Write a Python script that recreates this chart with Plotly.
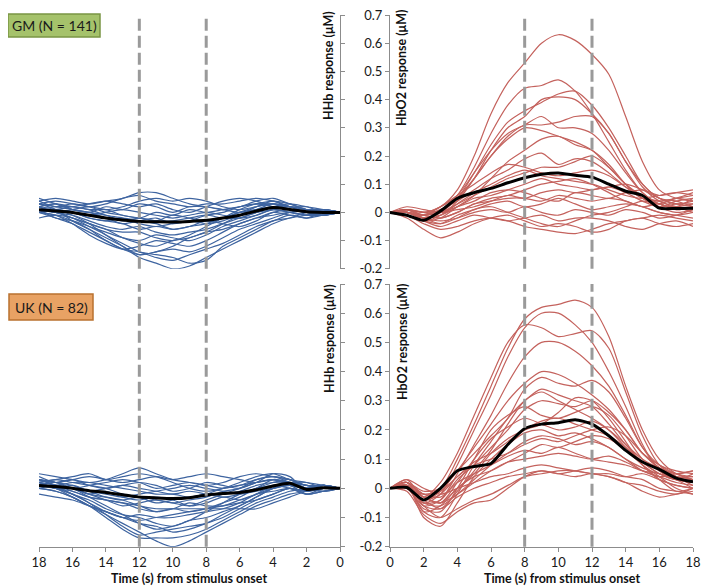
import plotly.graph_objects as go

TIME = list(range(19))
X_TICKS = [0, 2, 4, 6, 8, 10, 12, 14, 16, 18]
Y_TICKS = [0.7, 0.6, 0.5, 0.4, 0.3, 0.2, 0.1, 0, -0.1, -0.2]
Y_TICK_TEXT = ['0.7', '0.6', '0.5', '0.4', '0.3', '0.2', '0.1', '0', '-0.1', '-0.2']
WINDOW = [8, 12]

# GM group, HbO2 (right, top)
GM_HBO2 = [
    [0, 0.01, 0.0, 0.02, 0.08, 0.2, 0.35, 0.46, 0.53, 0.6, 0.63, 0.61, 0.56, 0.49, 0.34, 0.18, 0.08, 0.05, 0.04],
    [0, 0.0, -0.02, 0.0, 0.06, 0.16, 0.28, 0.38, 0.44, 0.45, 0.47, 0.43, 0.35, 0.25, 0.15, 0.07, 0.03, 0.02, 0.03],
    [0, 0.01, -0.01, 0.01, 0.05, 0.14, 0.24, 0.32, 0.36, 0.39, 0.42, 0.43, 0.38, 0.3, 0.2, 0.1, 0.05, 0.03, 0.04],
    [0, -0.01, -0.03, -0.01, 0.04, 0.12, 0.22, 0.3, 0.34, 0.4, 0.41, 0.4, 0.35, 0.28, 0.18, 0.09, 0.04, 0.02, 0.0],
    [0, 0.0, -0.02, 0.0, 0.05, 0.12, 0.2, 0.27, 0.31, 0.31, 0.32, 0.34, 0.34, 0.28, 0.18, 0.1, 0.05, 0.04, 0.02],
    [0, 0.01, 0.0, 0.02, 0.06, 0.14, 0.22, 0.28, 0.31, 0.34, 0.3, 0.3, 0.28, 0.22, 0.14, 0.07, 0.03, 0.02, 0.05],
    [0, 0.0, -0.02, 0.0, 0.05, 0.12, 0.2, 0.26, 0.3, 0.29, 0.27, 0.25, 0.22, 0.17, 0.1, 0.05, 0.02, 0.03, 0.03],
    [0, -0.01, -0.03, -0.02, 0.02, 0.06, 0.12, 0.18, 0.22, 0.26, 0.27, 0.24, 0.22, 0.16, 0.1, 0.05, 0.03, 0.01, 0.02],
    [0, 0.0, -0.01, 0.01, 0.04, 0.08, 0.12, 0.15, 0.19, 0.21, 0.17, 0.19, 0.18, 0.14, 0.09, 0.05, 0.04, 0.05, 0.06],
    [0, 0.01, 0.0, 0.0, 0.03, 0.06, 0.09, 0.12, 0.14, 0.16, 0.16, 0.18, 0.2, 0.16, 0.1, 0.06, 0.04, 0.05, 0.07],
    [0, 0.0, -0.02, -0.01, 0.03, 0.07, 0.1, 0.13, 0.15, 0.13, 0.12, 0.11, 0.1, 0.08, 0.06, 0.05, 0.06, 0.07, 0.06],
    [0, 0.0, -0.01, 0.0, 0.02, 0.05, 0.06, 0.08, 0.1, 0.12, 0.1, 0.09, 0.08, 0.09, 0.07, 0.04, 0.02, 0.04, 0.05],
    [0, 0.01, -0.01, -0.02, 0.0, 0.03, 0.04, 0.05, 0.05, 0.04, 0.06, 0.05, 0.04, 0.05, 0.04, 0.02, 0.03, 0.01, 0.02],
    [0, -0.01, -0.03, -0.04, -0.01, 0.01, 0.03, 0.04, 0.02, 0.03, 0.05, 0.03, 0.01, 0.02, 0.03, 0.02, 0.0, -0.01, 0.0],
    [0, 0.0, -0.02, -0.03, -0.02, 0.0, 0.01, 0.0, 0.02, 0.0, -0.01, 0.01, 0.0, -0.01, 0.01, 0.0, -0.02, -0.01, 0.01],
    [0, -0.01, -0.04, -0.06, -0.05, -0.03, -0.02, -0.03, -0.05, -0.06, -0.07, -0.075, -0.06, -0.04, -0.03, -0.02, -0.04, -0.05, -0.04],
    [0, -0.02, -0.06, -0.09, -0.07, -0.04, -0.02, -0.01, -0.03, -0.05, -0.04, -0.05, -0.07, -0.06, -0.03, -0.02, -0.01, -0.02, -0.03],
    [0, 0.01, 0.0, -0.01, 0.02, 0.04, 0.07, 0.08, 0.07, 0.05, 0.04, 0.07, 0.06, 0.05, 0.07, 0.08, 0.06, 0.07, 0.08],
    [0, 0.0, -0.03, -0.05, -0.03, -0.01, -0.02, -0.03, -0.02, -0.01, -0.03, -0.02, -0.02, -0.03, -0.05, -0.06, -0.04, -0.03, -0.05],
    [0, 0.02, 0.01, 0.0, 0.01, 0.02, 0.04, 0.06, 0.05, 0.07, 0.08, 0.07, 0.08, 0.09, 0.1, 0.08, 0.05, 0.03, 0.02],
    [0, 0.0, -0.01, -0.02, 0.0, 0.03, 0.05, 0.06, 0.08, 0.1, 0.11, 0.12, 0.1, 0.07, 0.04, 0.02, 0.0, -0.01, -0.02],
    [0, 0.01, -0.02, -0.04, -0.02, 0.01, 0.02, 0.0, -0.02, -0.04, -0.05, -0.03, -0.01, 0.0, 0.02, 0.04, 0.03, 0.05, 0.04],
    [0, 0.0, -0.01, 0.02, 0.06, 0.1, 0.14, 0.17, 0.16, 0.14, 0.13, 0.14, 0.15, 0.13, 0.09, 0.06, 0.02, 0.0, 0.01],
]
GM_HBO2_MEAN = [0, -0.01, -0.028, 0.005, 0.05, 0.07, 0.085, 0.105, 0.123, 0.135, 0.14, 0.132, 0.125, 0.1, 0.075, 0.06, 0.015, 0.014, 0.015]

# GM group, HHb (left, top)
GM_HHB = [
    [0, 0.0, -0.01, -0.02, -0.04, -0.07, -0.1, -0.13, -0.16, -0.19, -0.2, -0.18, -0.16, -0.12, -0.08, -0.05, -0.02, 0.0, 0.01],
    [0, 0.01, 0.0, -0.02, -0.03, -0.06, -0.09, -0.12, -0.17, -0.18, -0.16, -0.15, -0.14, -0.11, -0.08, -0.04, -0.01, 0.01, 0.02],
    [0, -0.01, -0.02, -0.01, -0.03, -0.05, -0.08, -0.11, -0.13, -0.15, -0.17, -0.16, -0.14, -0.13, -0.1, -0.07, -0.04, -0.02, 0.0],
    [0, 0.0, 0.01, 0.0, -0.02, -0.04, -0.06, -0.09, -0.12, -0.14, -0.13, -0.14, -0.15, -0.12, -0.09, -0.06, -0.03, 0.01, 0.03],
    [0, 0.01, 0.0, 0.01, 0.0, -0.02, -0.04, -0.07, -0.1, -0.12, -0.11, -0.1, -0.12, -0.13, -0.11, -0.08, -0.04, -0.01, 0.0],
    [0, 0.0, -0.01, 0.0, 0.01, -0.01, -0.03, -0.05, -0.08, -0.1, -0.09, -0.08, -0.1, -0.09, -0.07, -0.05, -0.03, -0.02, 0.01],
    [0, 0.01, 0.02, 0.03, 0.02, 0.0, -0.02, -0.04, -0.06, -0.07, -0.08, -0.07, -0.05, -0.06, -0.05, -0.03, -0.01, 0.0, 0.02],
    [0, 0.0, 0.01, 0.02, 0.03, 0.02, 0.0, -0.02, -0.04, -0.05, -0.06, -0.05, -0.06, -0.04, -0.03, -0.02, 0.0, 0.01, 0.0],
    [0, -0.01, 0.0, 0.01, 0.02, 0.03, 0.02, 0.0, -0.01, -0.03, -0.04, -0.02, -0.03, -0.04, -0.02, 0.0, 0.01, 0.02, 0.03],
    [0, 0.01, 0.01, 0.03, 0.04, 0.03, 0.02, 0.01, 0.0, 0.01, -0.01, 0.0, -0.02, -0.01, 0.0, 0.02, 0.03, 0.02, 0.04],
    [0, 0.0, 0.02, 0.02, 0.04, 0.05, 0.04, 0.03, 0.03, 0.02, 0.03, 0.04, 0.06, 0.05, 0.03, 0.02, 0.03, 0.04, 0.03],
    [0, 0.01, 0.0, 0.02, 0.03, 0.02, 0.01, 0.02, 0.04, 0.05, 0.04, 0.05, 0.04, 0.02, 0.01, 0.02, 0.01, 0.0, 0.02],
    [0, 0.0, -0.01, 0.0, 0.01, -0.01, -0.02, -0.01, 0.0, -0.01, -0.02, -0.01, 0.0, 0.01, 0.0, -0.01, 0.0, 0.01, 0.0],
    [0, 0.01, 0.01, 0.02, 0.01, 0.0, -0.01, -0.03, -0.04, -0.03, -0.04, -0.05, -0.04, -0.02, -0.01, 0.01, 0.02, 0.03, 0.02],
    [0, -0.01, -0.01, 0.0, -0.01, -0.02, -0.04, -0.06, -0.07, -0.09, -0.1, -0.12, -0.11, -0.09, -0.06, -0.04, -0.02, -0.01, -0.02],
    [0, 0.0, 0.01, 0.03, 0.05, 0.04, 0.02, 0.01, 0.02, 0.03, 0.05, 0.07, 0.07, 0.05, 0.04, 0.03, 0.04, 0.05, 0.04],
    [0, 0.01, 0.0, 0.01, 0.02, 0.01, 0.0, -0.02, -0.03, -0.02, -0.01, -0.03, -0.02, -0.03, -0.01, 0.0, 0.01, 0.03, 0.05],
    [0, 0.0, 0.01, 0.02, 0.04, 0.02, -0.01, -0.04, -0.07, -0.09, -0.12, -0.14, -0.15, -0.13, -0.1, -0.06, -0.03, -0.01, 0.0],
    [0, -0.01, 0.0, 0.02, 0.03, 0.03, 0.01, -0.02, -0.05, -0.08, -0.1, -0.09, -0.07, -0.07, -0.06, -0.04, -0.02, 0.0, 0.01],
    [0, 0.0, 0.0, 0.01, 0.02, 0.04, 0.05, 0.04, 0.02, 0.0, 0.01, 0.03, 0.02, 0.03, 0.04, 0.03, 0.02, 0.01, 0.01],
    [0, 0.01, 0.0, 0.02, 0.02, 0.0, -0.02, -0.02, -0.01, -0.02, -0.03, -0.03, -0.02, -0.01, 0.01, 0.01, 0.02, 0.02, 0.01],
    [0, -0.01, 0.0, 0.01, 0.03, 0.01, 0.0, 0.01, 0.02, 0.02, 0.0, 0.02, 0.03, 0.01, 0.02, 0.0, 0.01, 0.03, 0.02],
    [0, 0.0, -0.02, -0.01, 0.0, -0.03, -0.05, -0.04, -0.03, -0.05, -0.06, -0.04, -0.03, -0.02, -0.03, -0.02, 0.0, 0.0, 0.01],
]
GM_HHB_MEAN = [0, 0.0, 0.002, 0.01, 0.017, 0.005, -0.01, -0.02, -0.028, -0.032, -0.034, -0.033, -0.032, -0.027, -0.02, -0.01, 0.0, 0.005, 0.009]

# UK group, HbO2 (right, bottom)
UK_HBO2 = [
    [0, 0.02, -0.02, 0.0, 0.1, 0.22, 0.35, 0.48, 0.58, 0.62, 0.63, 0.645, 0.62, 0.52, 0.35, 0.2, 0.1, 0.05, 0.03],
    [0, 0.01, -0.05, -0.02, 0.08, 0.2, 0.32, 0.45, 0.55, 0.6, 0.6, 0.56, 0.5, 0.4, 0.28, 0.15, 0.06, 0.03, 0.02],
    [0, 0.03, -0.03, 0.02, 0.12, 0.25, 0.38, 0.5, 0.56, 0.55, 0.52, 0.53, 0.54, 0.48, 0.33, 0.18, 0.08, 0.04, 0.01],
    [0, 0.0, -0.06, -0.04, 0.05, 0.15, 0.25, 0.36, 0.45, 0.5, 0.5, 0.47, 0.42, 0.35, 0.25, 0.14, 0.07, 0.05, 0.03],
    [0, 0.02, -0.04, -0.01, 0.06, 0.14, 0.22, 0.3, 0.36, 0.4, 0.39, 0.36, 0.32, 0.27, 0.2, 0.12, 0.08, 0.05, 0.04],
    [0, 0.01, -0.08, -0.1, -0.02, 0.08, 0.16, 0.24, 0.3, 0.34, 0.32, 0.3, 0.28, 0.22, 0.15, 0.09, 0.05, 0.03, 0.05],
    [0, 0.0, -0.07, -0.08, 0.0, 0.1, 0.2, 0.25, 0.28, 0.25, 0.24, 0.26, 0.28, 0.25, 0.18, 0.1, 0.06, 0.03, 0.0],
    [0, 0.02, -0.03, -0.05, 0.02, 0.1, 0.17, 0.21, 0.24, 0.22, 0.2, 0.21, 0.23, 0.2, 0.15, 0.1, 0.07, 0.05, 0.06],
    [0, 0.01, -0.1, -0.13, -0.05, 0.04, 0.1, 0.15, 0.19, 0.2, 0.18, 0.19, 0.17, 0.14, 0.1, 0.06, 0.04, 0.02, 0.01],
    [0, 0.0, -0.05, -0.06, -0.02, 0.03, 0.08, 0.12, 0.16, 0.18, 0.17, 0.15, 0.16, 0.14, 0.1, 0.07, 0.05, 0.04, 0.03],
    [0, 0.02, -0.02, -0.03, 0.02, 0.05, 0.08, 0.11, 0.13, 0.12, 0.14, 0.12, 0.1, 0.09, 0.08, 0.06, 0.05, 0.03, 0.02],
    [0, 0.01, -0.06, -0.1, -0.07, -0.04, -0.02, 0.01, 0.04, 0.05, 0.06, 0.06, 0.05, 0.04, 0.02, 0.01, -0.01, -0.02, 0.0],
    [0, 0.0, -0.04, -0.07, -0.03, 0.0, 0.02, 0.04, 0.05, 0.06, 0.05, 0.06, 0.07, 0.06, 0.04, 0.03, 0.0, -0.01, -0.02],
    [0, 0.03, 0.0, -0.02, 0.0, 0.02, 0.04, 0.05, 0.07, 0.08, 0.07, 0.06, 0.05, 0.05, 0.04, 0.05, 0.03, 0.01, 0.0],
    [0, -0.01, -0.09, -0.12, -0.08, -0.05, -0.04, 0.0, 0.04, 0.06, 0.05, 0.04, 0.05, 0.04, 0.02, -0.01, -0.03, -0.02, -0.01],
    [0, 0.01, -0.03, -0.05, -0.02, 0.02, 0.06, 0.09, 0.1, 0.11, 0.12, 0.11, 0.1, 0.11, 0.09, 0.06, 0.04, 0.05, 0.06],
    [0, 0.02, -0.05, -0.04, 0.03, 0.08, 0.14, 0.2, 0.27, 0.3, 0.29, 0.28, 0.3, 0.26, 0.2, 0.12, 0.07, 0.04, 0.02],
    [0, 0.0, -0.02, -0.01, 0.04, 0.09, 0.12, 0.16, 0.2, 0.23, 0.24, 0.22, 0.2, 0.18, 0.14, 0.09, 0.05, 0.03, 0.03],
    [0, 0.01, -0.08, -0.06, 0.0, 0.04, 0.06, 0.09, 0.12, 0.15, 0.14, 0.16, 0.18, 0.17, 0.13, 0.08, 0.04, 0.0, -0.02],
    [0, 0.02, -0.01, 0.0, 0.06, 0.12, 0.18, 0.24, 0.34, 0.38, 0.36, 0.35, 0.37, 0.33, 0.24, 0.14, 0.08, 0.06, 0.05],
    [0, 0.01, -0.04, -0.02, 0.04, 0.08, 0.1, 0.12, 0.15, 0.17, 0.16, 0.18, 0.2, 0.21, 0.18, 0.12, 0.07, 0.04, 0.04],
    [0, 0.0, -0.03, -0.05, 0.0, 0.05, 0.12, 0.17, 0.2, 0.22, 0.26, 0.31, 0.3, 0.24, 0.16, 0.08, 0.03, 0.01, 0.0],
    [0, 0.02, -0.06, -0.07, -0.01, 0.06, 0.13, 0.22, 0.3, 0.33, 0.3, 0.27, 0.24, 0.2, 0.14, 0.08, 0.03, -0.01, 0.0],
]
UK_HBO2_MEAN = [0, 0.003, -0.04, 0.0, 0.06, 0.075, 0.085, 0.15, 0.205, 0.22, 0.225, 0.235, 0.22, 0.18, 0.13, 0.09, 0.065, 0.035, 0.022]

# UK group, HHb (left, bottom)
UK_HHB = [
    [0, 0.0, -0.01, -0.02, -0.04, -0.06, -0.09, -0.12, -0.15, -0.18, -0.2, -0.18, -0.15, -0.12, -0.09, -0.06, -0.03, -0.01, 0.0],
    [0, 0.01, 0.0, -0.01, -0.03, -0.05, -0.08, -0.11, -0.14, -0.16, -0.17, -0.17, -0.17, -0.14, -0.1, -0.06, -0.03, 0.0, 0.02],
    [0, -0.01, -0.02, 0.0, -0.02, -0.04, -0.07, -0.1, -0.12, -0.14, -0.15, -0.13, -0.12, -0.1, -0.08, -0.05, -0.02, 0.0, 0.01],
    [0, 0.0, 0.01, 0.02, 0.0, -0.03, -0.06, -0.08, -0.1, -0.11, -0.13, -0.12, -0.1, -0.09, -0.07, -0.04, -0.02, 0.01, 0.03],
    [0, 0.01, -0.01, 0.0, -0.01, -0.02, -0.05, -0.07, -0.08, -0.09, -0.1, -0.1, -0.09, -0.1, -0.08, -0.06, -0.03, -0.01, 0.0],
    [0, 0.0, 0.0, 0.02, 0.03, 0.0, -0.03, -0.05, -0.07, -0.08, -0.07, -0.08, -0.07, -0.05, -0.04, -0.03, -0.01, 0.0, 0.02],
    [0, 0.01, -0.01, 0.04, 0.05, 0.02, 0.0, -0.02, -0.04, -0.06, -0.05, -0.04, -0.05, -0.06, -0.04, -0.02, 0.0, 0.01, 0.03],
    [0, 0.0, 0.01, 0.03, 0.04, 0.03, 0.01, 0.0, -0.02, -0.03, -0.04, -0.05, -0.03, -0.02, 0.0, 0.01, 0.02, 0.03, 0.02],
    [0, -0.01, 0.0, 0.02, 0.01, 0.0, -0.02, -0.03, -0.02, -0.01, -0.02, -0.01, 0.0, 0.01, 0.0, -0.01, 0.01, 0.02, 0.03],
    [0, 0.01, 0.01, 0.03, 0.04, 0.05, 0.04, 0.02, 0.01, 0.02, 0.03, 0.05, 0.07, 0.05, 0.03, 0.02, 0.03, 0.04, 0.05],
    [0, 0.0, 0.02, 0.02, 0.03, 0.02, 0.03, 0.04, 0.05, 0.04, 0.03, 0.04, 0.03, 0.02, 0.03, 0.04, 0.03, 0.02, 0.04],
    [0, 0.01, 0.0, 0.01, 0.0, -0.01, -0.02, -0.01, 0.0, 0.01, 0.0, -0.01, -0.02, -0.03, -0.02, -0.01, 0.0, 0.01, 0.0],
    [0, 0.0, -0.01, 0.0, -0.02, -0.04, -0.05, -0.06, -0.07, -0.08, -0.09, -0.1, -0.11, -0.1, -0.08, -0.06, -0.04, -0.03, -0.02],
    [0, 0.01, 0.0, 0.03, 0.02, 0.0, -0.02, -0.05, -0.08, -0.11, -0.13, -0.14, -0.12, -0.09, -0.06, -0.03, 0.0, 0.02, 0.01],
    [0, 0.0, 0.01, 0.02, 0.03, 0.02, 0.01, 0.0, 0.01, 0.02, 0.01, 0.0, 0.02, 0.03, 0.02, 0.01, 0.0, 0.02, 0.03],
    [0, -0.01, 0.0, 0.01, 0.0, -0.02, -0.04, -0.06, -0.06, -0.05, -0.07, -0.08, -0.06, -0.05, -0.04, -0.03, -0.01, 0.01, 0.02],
    [0, 0.0, -0.01, -0.03, -0.05, -0.07, -0.07, -0.07, -0.07, -0.07, -0.07, -0.07, -0.06, -0.04, -0.03, -0.02, 0.0, 0.01, 0.01],
    [0, 0.01, 0.02, 0.03, 0.05, 0.04, 0.02, 0.0, -0.01, 0.0, 0.02, 0.04, 0.05, 0.04, 0.03, 0.05, 0.04, 0.03, 0.02],
    [0, 0.0, -0.02, 0.01, 0.0, -0.03, -0.06, -0.09, -0.12, -0.13, -0.14, -0.15, -0.16, -0.13, -0.09, -0.05, -0.02, 0.0, 0.01],
    [0, 0.01, 0.0, 0.02, 0.04, 0.03, 0.0, -0.01, -0.03, -0.04, -0.05, -0.04, -0.03, -0.04, -0.03, -0.01, 0.01, 0.0, 0.02],
    [0, 0.0, -0.01, 0.02, 0.02, 0.01, -0.01, -0.02, -0.02, -0.03, -0.02, -0.02, -0.01, 0.0, 0.01, 0.02, 0.02, 0.01, 0.01],
    [0, 0.01, 0.0, 0.01, 0.03, 0.02, 0.0, 0.01, 0.02, 0.0, -0.01, 0.01, 0.02, 0.01, 0.0, 0.01, 0.03, 0.02, 0.03],
    [0, -0.01, -0.02, 0.0, 0.01, -0.02, -0.04, -0.03, -0.05, -0.06, -0.04, -0.03, -0.04, -0.03, -0.01, -0.02, 0.0, 0.0, 0.01],
]
UK_HHB_MEAN = [0, 0.002, -0.004, 0.017, 0.008, -0.005, -0.014, -0.018, -0.023, -0.032, -0.035, -0.033, -0.03, -0.022, -0.014, -0.008, 0.0, 0.006, 0.01]

BLUE = '#3e64a0'
RED = '#c4625d'
FONT = 'Lato'
W, H = 709, 588
# the page body keeps its default 8px margin, so the figure sits 8px in
OFF = 8
FW, FH = W - OFF, H - OFF


def px_x(p):
    return (p - OFF) / FW


def px_y(p):
    return 1 - (p - OFF) / FH


fig = go.Figure()


def add_panel(lines, mean, color, xa, ya):
    for row in lines:
        fig.add_trace(go.Scatter(x=TIME, y=row, mode='lines', xaxis=xa, yaxis=ya,
                                 line=dict(color=color, width=1.2, shape='spline', smoothing=0.8),
                                 hoverinfo='skip', showlegend=False))
    fig.add_trace(go.Scatter(x=TIME, y=mean, mode='lines', xaxis=xa, yaxis=ya,
                             line=dict(color='black', width=3, shape='spline', smoothing=0.6),
                             showlegend=False))


add_panel(GM_HHB, GM_HHB_MEAN, BLUE, 'x', 'y')
add_panel(GM_HBO2, GM_HBO2_MEAN, RED, 'x2', 'y2')
add_panel(UK_HHB, UK_HHB_MEAN, BLUE, 'x3', 'y3')
add_panel(UK_HBO2, UK_HBO2_MEAN, RED, 'x4', 'y4')

left_dom = [px_x(39), px_x(340)]
right_dom = [px_x(390), px_x(693)]
top_dom = [px_y(268.8), px_y(15)]
bot_dom = [px_y(546.7), px_y(284)]

tick_font = dict(family=FONT, size=13, color='#1a1a1a')
axis_line = '#8c8c8c'

hidden_x = dict(showline=False, showticklabels=False, ticks='', showgrid=False, zeroline=False,
                automargin=False)
shown_x = dict(showline=True, linecolor=axis_line, linewidth=1, ticks='outside', ticklen=4,
               tickcolor=axis_line, tickvals=X_TICKS, tickfont=tick_font, showgrid=False,
               zeroline=False, automargin=False, ticklabeloverflow='allow')
left_y = dict(range=[-0.2, 0.7], side='right', showline=True, linecolor=axis_line, ticks='outside',
              ticklen=4, tickcolor=axis_line, tickvals=Y_TICKS, showticklabels=False,
              showgrid=False, zeroline=False, automargin=False)
right_y = dict(range=[-0.2, 0.7], side='left', showline=True, linecolor=axis_line, ticks='outside',
               ticklen=4, tickcolor=axis_line, tickvals=Y_TICKS, ticktext=Y_TICK_TEXT,
               tickfont=tick_font, showgrid=False, zeroline=False, automargin=False,
               ticklabeloverflow='allow')

fig.update_layout(
    width=FW, height=FH,
    margin=dict(l=0, r=0, t=0, b=0, pad=0),
    paper_bgcolor='white', plot_bgcolor='white',
    showlegend=False,
    xaxis=dict(domain=left_dom, range=[18, 0], anchor='y', **hidden_x),
    yaxis=dict(domain=top_dom, anchor='x', **left_y),
    xaxis2=dict(domain=right_dom, range=[0, 18], anchor='y2', **hidden_x),
    yaxis2=dict(domain=top_dom, anchor='x2', **right_y),
    xaxis3=dict(domain=left_dom, range=[18, 0], anchor='y3', **shown_x),
    yaxis3=dict(domain=bot_dom, anchor='x3', **left_y),
    xaxis4=dict(domain=right_dom, range=[0, 18], anchor='y4', **shown_x),
    yaxis4=dict(domain=bot_dom, anchor='x4', **right_y),
)

# dashed stimulus window markers
for xa, ya in [('x', 'y'), ('x2', 'y2'), ('x3', 'y3'), ('x4', 'y4')]:
    for t in WINDOW:
        fig.add_shape(type='line', xref=xa, yref=ya + ' domain', x0=t, x1=t, y0=0, y1=1,
                      line=dict(color='#9a9a9a', width=3, dash='12px,5px'))

# group boxes
boxes = [
    ('GM (N = 141)', 8, 100, 14, 37, '#a5c26b', '#7a9544'),
    ('UK (N = 82)', 9, 93, 294, 320, '#e8a264', '#b9712f'),
]
for label, x0, x1, y0, y1, fill, edge in boxes:
    fig.add_shape(type='rect', xref='paper', yref='paper',
                  x0=px_x(x0), x1=px_x(x1), y0=px_y(y1), y1=px_y(y0),
                  fillcolor=fill, line=dict(color=edge, width=1.5))
    fig.add_annotation(text=label, xref='paper', yref='paper', showarrow=False,
                       x=px_x((x0 + x1) / 2), y=px_y((y0 + y1) / 2),
                       xanchor='center', yanchor='middle',
                       font=dict(family=FONT, size=14, color='#1a1a1a'))

# axis titles
title_font = dict(family=FONT, size=12.5, color='#111111')
for cy_hhb, cy_hbo in [(66, 68), (339, 342)]:
    fig.add_annotation(text='<b>HHb response (μM)</b>', xref='paper', yref='paper', showarrow=False,
                       x=px_x(329), y=px_y(cy_hhb), textangle=-90,
                       xanchor='center', yanchor='middle', font=title_font)
    fig.add_annotation(text='<b>HbO2 response (μM)</b>', xref='paper', yref='paper', showarrow=False,
                       x=px_x(402), y=px_y(cy_hbo), textangle=-90,
                       xanchor='center', yanchor='middle', font=title_font)

for cx in [189, 562]:
    fig.add_annotation(text='<b>Time (s) from stimulus onset</b>', xref='paper', yref='paper',
                       showarrow=False, x=px_x(cx), y=px_y(578),
                       xanchor='center', yanchor='middle', font=title_font)

fig.write_html("out.html")
